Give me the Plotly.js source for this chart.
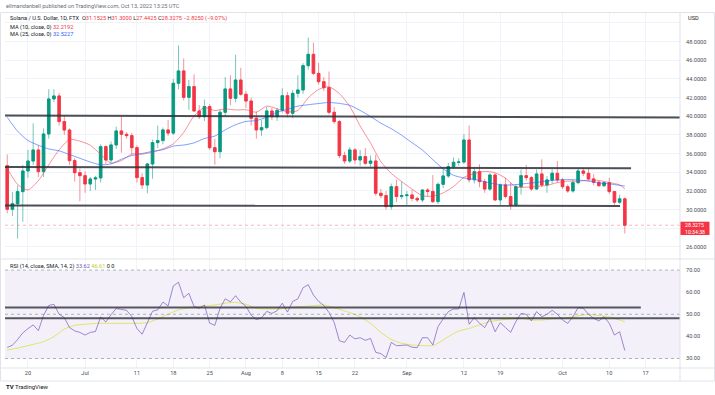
<!DOCTYPE html>
<html><head><meta charset="utf-8">
<script src="https://cdn.plot.ly/plotly-3.0.1.min.js"></script>
<style>html,body{margin:0;padding:0;background:#fff;}#chart{width:715px;height:395px;}</style>
</head><body><div id="chart"></div>
<script>
// ---- data ----
const dates = ['2022-06-16','2022-06-17','2022-06-18','2022-06-19','2022-06-20','2022-06-21','2022-06-22','2022-06-23','2022-06-24','2022-06-25','2022-06-26','2022-06-27','2022-06-28','2022-06-29','2022-06-30',
'2022-07-01','2022-07-02','2022-07-03','2022-07-04','2022-07-05','2022-07-06','2022-07-07','2022-07-08','2022-07-09','2022-07-10','2022-07-11','2022-07-12','2022-07-13','2022-07-14','2022-07-15','2022-07-16','2022-07-17','2022-07-18','2022-07-19','2022-07-20','2022-07-21','2022-07-22','2022-07-23','2022-07-24','2022-07-25','2022-07-26','2022-07-27','2022-07-28','2022-07-29','2022-07-30','2022-07-31',
'2022-08-01','2022-08-02','2022-08-03','2022-08-04','2022-08-05','2022-08-06','2022-08-07','2022-08-08','2022-08-09','2022-08-10','2022-08-11','2022-08-12','2022-08-13','2022-08-14','2022-08-15','2022-08-16','2022-08-17','2022-08-18','2022-08-19','2022-08-20','2022-08-21','2022-08-22','2022-08-23','2022-08-24','2022-08-25','2022-08-26','2022-08-27','2022-08-28','2022-08-29','2022-08-30','2022-08-31',
'2022-09-01','2022-09-02','2022-09-03','2022-09-04','2022-09-05','2022-09-06','2022-09-07','2022-09-08','2022-09-09','2022-09-10','2022-09-11','2022-09-12','2022-09-13','2022-09-14','2022-09-15','2022-09-16','2022-09-17','2022-09-18','2022-09-19','2022-09-20','2022-09-21','2022-09-22','2022-09-23','2022-09-24','2022-09-25','2022-09-26','2022-09-27','2022-09-28','2022-09-29','2022-09-30',
'2022-10-01','2022-10-02','2022-10-03','2022-10-04','2022-10-05','2022-10-06','2022-10-07','2022-10-08','2022-10-09','2022-10-10','2022-10-11','2022-10-12','2022-10-13'];

const open = [34.71,30.03,30.64,31.93,34.14,35.21,36.39,34.07,38.11,41.86,42.18,39.43,38.53,35.25,33.96,
33.64,32.75,33.28,33.40,36.75,35.32,36.93,38.43,38.07,37.93,36.64,33.43,32.64,34.89,37.18,37.40,38.54,38.20,43.54,44.86,42.03,43.18,40.57,39.96,41.04,36.64,36.21,40.43,42.93,41.93,43.89,
42.36,41.64,39.79,38.54,38.79,40.57,39.96,40.64,42.21,40.32,42.46,42.82,45.43,46.64,44.60,43.71,43.07,40.43,39.43,35.79,35.21,36.40,35.32,35.68,34.96,35.21,31.75,31.50,30.32,32.46,31.40,
31.50,31.57,31.20,31.04,32.10,31.95,30.86,32.71,33.61,34.61,35.07,35.10,37.46,33.20,34.07,33.00,32.20,33.71,31.04,32.64,31.40,30.50,32.46,33.64,33.43,32.21,33.82,32.64,33.18,33.89,
33.18,32.46,32.00,32.89,34.14,33.89,33.29,32.93,32.57,32.89,31.93,30.79,31.1525];
const high = [35.90,31.90,32.60,34.80,36.40,39.25,36.90,38.70,42.90,42.90,42.50,40.10,38.70,35.50,34.40,
34.10,33.50,33.60,37.00,36.90,37.30,38.90,40.00,38.30,38.20,36.90,33.90,35.00,37.50,39.00,38.80,39.60,44.00,47.60,46.20,43.90,44.50,41.20,41.80,41.30,37.60,40.70,44.20,44.40,46.60,45.20,
42.70,42.00,40.50,39.60,41.00,40.90,40.90,43.00,42.60,42.80,44.40,45.70,48.43,47.90,45.70,44.20,44.80,41.00,39.60,36.20,36.70,36.60,36.40,36.60,35.80,35.90,32.20,32.00,32.80,33.20,33.00,
32.00,32.10,31.40,32.20,32.30,33.70,32.90,34.40,35.00,35.60,35.50,38.10,39.00,34.50,34.86,33.30,33.90,33.90,32.80,33.40,32.90,32.70,34.30,34.80,33.60,34.30,35.40,33.60,34.30,35.20,
33.40,32.70,33.20,34.50,34.50,34.50,33.80,33.10,33.00,33.40,32.00,31.60,31.30];
const low = [29.60,29.30,26.90,28.70,33.40,34.80,33.50,33.50,37.60,41.50,39.00,38.00,34.80,33.00,30.90,
31.80,32.00,32.10,32.90,34.90,35.00,36.50,36.10,37.60,35.90,32.90,32.20,31.75,33.30,36.60,37.00,37.90,38.00,42.90,41.70,40.70,40.50,39.70,39.50,36.40,34.80,35.50,40.00,41.20,41.50,42.20,
40.90,39.00,37.60,37.90,38.60,39.60,39.50,40.40,39.90,39.80,42.00,42.40,45.00,44.40,43.40,42.70,40.20,39.20,35.50,34.90,35.00,34.90,34.70,34.80,34.60,31.50,31.20,30.00,30.00,30.80,31.10,
30.50,30.90,30.80,30.80,31.40,30.70,30.60,32.30,33.40,34.40,34.70,34.90,32.90,32.80,32.40,31.80,32.00,30.90,30.50,31.20,30.00,30.40,31.60,33.10,32.00,32.10,32.40,31.80,32.80,32.90,
32.20,31.80,31.80,32.70,33.60,33.10,32.60,32.40,32.40,31.70,30.50,30.60,27.4425];
const close = [30.03,30.64,31.93,34.14,35.21,36.39,34.07,38.11,41.86,42.18,39.43,38.53,35.25,33.96,33.64,
32.75,33.28,33.40,36.75,35.32,36.93,38.43,38.07,37.93,36.64,33.43,32.64,34.89,37.18,37.40,38.54,38.20,43.54,44.86,42.03,43.18,40.57,39.96,41.04,36.64,36.21,40.43,42.93,41.93,43.89,42.36,
41.64,39.79,38.54,38.79,40.57,39.96,40.64,42.21,40.32,42.46,42.82,45.43,46.64,44.60,43.71,43.07,40.43,39.43,35.79,35.21,36.40,35.32,35.68,34.96,35.21,31.75,31.50,30.32,32.46,31.40,31.50,
31.57,31.20,31.04,32.10,31.95,30.86,32.71,33.61,34.61,35.07,35.10,37.46,33.20,34.07,33.00,32.20,33.71,31.04,32.64,31.40,30.50,32.46,33.64,33.43,32.21,33.82,32.64,33.18,33.89,33.18,
32.46,32.00,32.89,34.14,33.89,33.29,32.93,32.57,32.89,31.93,30.79,31.1525,28.3275];

const ma10Dates = ['2022-06-16','2022-06-18','2022-06-20','2022-06-22','2022-06-24','2022-06-26','2022-06-28','2022-06-30','2022-07-02','2022-07-04','2022-07-06','2022-07-08','2022-07-10','2022-07-12','2022-07-14','2022-07-16','2022-07-18','2022-07-20','2022-07-22','2022-07-24','2022-07-26','2022-07-28','2022-07-30','2022-08-01','2022-08-03','2022-08-05','2022-08-07','2022-08-09','2022-08-11','2022-08-13','2022-08-15','2022-08-17','2022-08-19','2022-08-21','2022-08-23','2022-08-25','2022-08-27','2022-08-29','2022-08-31','2022-09-02','2022-09-04','2022-09-06','2022-09-08','2022-09-10','2022-09-12','2022-09-14','2022-09-16','2022-09-18','2022-09-20','2022-09-22','2022-09-24','2022-09-26','2022-09-28','2022-09-30','2022-10-02','2022-10-04','2022-10-06','2022-10-08','2022-10-10','2022-10-12','2022-10-13'];
const ma10 = [34.4,32.7,32.1,33.1,34.8,36.40,37.52,37.34,36.90,35.92,34.98,35.25,35.95,35.95,36.15,36.52,37.04,38.27,40.04,40.93,40.62,40.79,40.68,40.70,40.44,41.09,40.81,40.48,40.61,41.98,42.88,43.17,42.44,41.07,38.96,37.15,35.13,33.88,33.01,32.19,31.48,31.44,31.79,32.47,33.45,33.86,34.10,33.95,33.38,32.42,32.40,32.49,32.59,32.90,33.05,33.04,33.16,33.12,32.90,32.65,32.22];
const ma25Dates = ma10Dates;
const ma25 = [39.9,38.4,37.4,36.9,36.5,36.3,35.9,35.5,35.1,34.8,34.9,35.4,35.79,36.01,36.25,36.42,36.81,36.92,37.15,37.62,37.88,38.55,39.10,39.45,39.54,39.91,40.43,40.75,41.09,41.24,41.37,41.48,41.38,41.18,40.63,39.98,39.26,38.67,37.97,37.17,36.38,35.36,34.37,33.68,33.39,33.24,32.98,32.75,32.63,32.68,32.80,32.92,33.06,33.18,33.22,33.17,33.05,32.85,32.76,32.60,32.52];

const rsi = [35.0,36.0,38.6,41.6,43.5,45.2,42.6,49.5,54.0,54.5,50.0,48.5,44.0,42.5,41.8,
40.6,41.8,42.2,48.8,46.5,49.8,52.6,52.2,51.8,49.0,43.5,41.0,46.0,51.4,52.0,55.5,53.8,62.8,64.5,57.5,59.5,53.5,52.7,54.2,46.0,45.0,52.7,57.0,55.6,58.4,55.5,
53.6,49.6,47.6,48.4,51.3,50.4,51.6,55.0,51.0,55.8,57.0,62.0,63.4,58.7,55.8,54.0,50.8,46.3,38.0,37.3,40.6,38.9,39.4,38.2,39.1,32.8,32.2,30.4,37.3,35.8,35.8,
36.1,35.1,34.9,39.4,39.4,36.1,44.4,47.9,51.2,52.4,52.4,59.9,45.5,48.5,45.9,44.0,48.2,42.1,46.2,44.0,41.8,46.7,50.4,50.0,47.0,51.2,48.9,50.0,51.8,50.0,
47.4,45.9,48.9,53.0,52.7,50.0,48.2,47.0,48.9,45.9,40.6,42.1,33.62];
const rsiMaDates = ['2022-06-16','2022-06-18','2022-06-21','2022-06-23','2022-06-25','2022-06-27','2022-06-29','2022-07-01','2022-07-03','2022-07-06','2022-07-08','2022-07-11','2022-07-13','2022-07-15','2022-07-17','2022-07-19','2022-07-21','2022-07-23','2022-07-26','2022-07-28','2022-07-30','2022-08-01','2022-08-03','2022-08-05','2022-08-08','2022-08-10','2022-08-12','2022-08-14','2022-08-16','2022-08-18','2022-08-20','2022-08-21','2022-08-23','2022-08-25','2022-08-27','2022-08-29','2022-08-31','2022-09-02','2022-09-04','2022-09-06','2022-09-07','2022-09-09','2022-09-11','2022-09-13','2022-09-15','2022-09-17','2022-09-19','2022-09-21','2022-09-23','2022-09-25','2022-09-27','2022-09-29','2022-10-01','2022-10-03','2022-10-05','2022-10-06','2022-10-08','2022-10-10','2022-10-11','2022-10-13'];
const rsiMa = [33.9,34.7,36.4,37.6,39.9,43.3,45.0,45.5,45.9,45.9,45.9,45.9,46.2,47.9,50.0,52.0,53.0,53.5,54.2,55.0,55.4,54.5,52.7,52.4,52.5,53.2,53.5,53.9,54.2,53.0,51.5,50.8,48.9,45.9,41.8,38.6,36.9,36.1,35.8,35.8,36.9,39.9,42.4,43.6,45.2,46.7,47.4,47.9,48.2,47.4,47.4,47.9,48.2,48.9,49.7,50.0,49.4,48.9,48.2,46.61];

// author-drawn horizontal levels: [startDate, startValue, endDate, endValue]
const priceLevels = [
  ['2022-06-15 12:00', 40.08, '2022-10-25 00:00', 39.88],
  ['2022-06-15 12:00', 34.57, '2022-10-14 05:00', 34.43],
  ['2022-06-15 12:00', 30.43, '2022-10-12 02:00', 30.40]
];
const rsiLevels = [
  ['2022-06-15 12:00', 53.1, '2022-10-16 02:00', 53.1],
  ['2022-06-15 12:00', 48.2, '2022-10-25 00:00', 48.2]
];

const dateTicks = ['2022-06-20','2022-07-01','2022-07-11','2022-07-18','2022-07-25','2022-08-01','2022-08-08','2022-08-15','2022-08-22','2022-09-01','2022-09-12','2022-09-19','2022-10-01','2022-10-10','2022-10-17'];
const dateLabels = ['20','Jul','11','18','25','Aug','8','15','22','Sep','12','19','Oct','10','17'];
const priceTicks = [26,28,30,32,34,36,38,40,42,44,46,48,50];
const priceLabels = ['26.0000','','30.0000','32.0000','34.0000','36.0000','38.0000','40.0000','42.0000','44.0000','46.0000','48.0000',''];
const rsiTicks = [30,40,50,60,70];
const rsiLabels = ['30.00','40.00','50.00','60.00','70.00'];
const lastInfo = {o:'31.1525', h:'31.3000', l:'27.4425', c:'28.3275', chg:'−2.8250 (−9.07%)', ma10:'32.2192', ma25:'32.5227', rsi:'33.62', rsiMa:'46.61', timer:'10:34:38'};

// ---- drawing ----
const UP = '#089981', DN = '#f23645';
const bodyHigh = open.map((o,i)=>Math.max(o, close[i]));
const bodyLow = open.map((o,i)=>Math.min(o, close[i]));
const FONT = 'Roboto, "Liberation Sans", sans-serif';

const traces = [
  {type:'candlestick', x:dates, open:open, high:high, low:low, close:close, xaxis:'x', yaxis:'y',
   increasing:{line:{color:'rgba(8,153,129,0.55)', width:1}, fillcolor:'rgba(0,0,0,0)'},
   decreasing:{line:{color:'rgba(242,54,69,0.55)', width:1}, fillcolor:'rgba(0,0,0,0)'},
   whiskerwidth:0, hoverinfo:'skip', showlegend:false},
  {type:'candlestick', x:dates, open:open, high:bodyHigh, low:bodyLow, close:close, xaxis:'x', yaxis:'y',
   increasing:{line:{color:UP, width:0.8}, fillcolor:UP},
   decreasing:{line:{color:DN, width:0.8}, fillcolor:DN},
   whiskerwidth:0, hoverinfo:'skip', showlegend:false},
  {type:'scatter', mode:'lines', x:ma10Dates, y:ma10, xaxis:'x', yaxis:'y', line:{color:'rgba(242,54,69,0.55)', width:1, shape:'spline', smoothing:0.6}, hoverinfo:'skip', showlegend:false},
  {type:'scatter', mode:'lines', x:ma25Dates, y:ma25, xaxis:'x', yaxis:'y', line:{color:'rgba(41,98,255,0.6)', width:1, shape:'spline', smoothing:0.6}, hoverinfo:'skip', showlegend:false},
  {type:'scatter', mode:'lines', x:rsiMaDates, y:rsiMa, xaxis:'x', yaxis:'y2', line:{color:'rgba(215,225,60,0.75)', width:1, shape:'spline', smoothing:0.6}, hoverinfo:'skip', showlegend:false},
  {type:'scatter', mode:'lines', x:dates, y:rsi, xaxis:'x', yaxis:'y2', line:{color:'rgba(126,87,194,0.7)', width:1}, hoverinfo:'skip', showlegend:false}
];

const shapes = [];
// RSI band
shapes.push({type:'rect', xref:'paper', yref:'y2', x0:0, x1:1, y0:30, y1:70, fillcolor:'rgba(126,87,194,0.09)', line:{width:0}, layer:'below'});
[70,50,30].forEach(v=>shapes.push({type:'line', xref:'paper', yref:'y2', x0:0, x1:1, y0:v, y1:v, line:{color:'rgba(120,123,134,0.55)', width:1, dash:'3px,3px'}}));
// last price dotted line
shapes.push({type:'line', xref:'paper', yref:'y', x0:0, x1:1, y0:close[close.length-1], y1:close[close.length-1], line:{color:'rgba(242,54,69,0.35)', width:1, dash:'dot'}});
priceLevels.forEach(l=>shapes.push({type:'line', xref:'x', yref:'y', x0:l[0], y0:l[1], x1:l[2], y1:l[3], line:{color:'rgba(45,48,58,0.85)', width:2}}));
rsiLevels.forEach(l=>shapes.push({type:'line', xref:'x', yref:'y2', x0:l[0], y0:l[1], x1:l[2], y1:l[3], line:{color:'rgba(45,48,58,0.8)', width:2}}));
// frame and pane separator
shapes.push({type:'rect', xref:'paper', yref:'paper', x0:-0.0067, x1:1.0511, y0:-0.0366, y1:1.0014, line:{color:'#e0e3eb', width:1}, fillcolor:'rgba(0,0,0,0)'});
shapes.push({type:'line', xref:'paper', yref:'paper', x0:-0.0067, x1:1.0511, y0:0.307, y1:0.307, line:{color:'#e0e3eb', width:1}});
shapes.push({type:'line', xref:'paper', yref:'paper', x0:-0.0067, x1:1.0511, y0:0, y1:0, line:{color:'#e0e3eb', width:1}});
shapes.push({type:'line', xref:'paper', yref:'paper', x0:1, x1:1, y0:-0.0366, y1:1.0014, line:{color:'#e0e3eb', width:1}});
// price tag
shapes.push({type:'rect', xref:'paper', yref:'paper', x0:1.0007, x1:1.0437, y0:0.3746, y1:0.4121, fillcolor:DN, line:{width:0}, layer:'above'});

const red = s=>'<span style="color:#f23645">'+s+'</span>';
const annotations = [
  {text:'ellmandanbell published on TradingView.com, Oct 13, 2022 13:25 UTC', x:-0.0015, y:1.0197, xref:'paper', yref:'paper', xanchor:'left', yanchor:'middle', showarrow:false, font:{family:FONT, size:5.6, color:'#6a6d78'}},
  {text:'Solana / U.S. Dollar, 1D, FTX  O'+red(lastInfo.o)+' H'+red(lastInfo.h)+' L'+red(lastInfo.l)+' C'+red(lastInfo.c)+' '+red(lastInfo.chg), x:0.0044, y:0.9831, xref:'paper', yref:'paper', xanchor:'left', yanchor:'middle', showarrow:false, font:{family:FONT, size:5.6, color:'#131722'}},
  {text:'MA (10, close, 0) '+red(lastInfo.ma10), x:0.0044, y:0.9592, xref:'paper', yref:'paper', xanchor:'left', yanchor:'middle', showarrow:false, font:{family:FONT, size:5.6, color:'#131722'}},
  {text:'MA (25, close, 0) <span style="color:#2962ff">'+lastInfo.ma25+'</span>', x:0.0044, y:0.9408, xref:'paper', yref:'paper', xanchor:'left', yanchor:'middle', showarrow:false, font:{family:FONT, size:5.6, color:'#131722'}},
  {text:'RSI (14, close, SMA, 14, 2) <span style="color:#7e57c2">'+lastInfo.rsi+'</span> <span style="color:#c5cc2a">'+lastInfo.rsiMa+'</span> 0 0', x:0.0044, y:0.2873, xref:'paper', yref:'paper', xanchor:'left', yanchor:'middle', showarrow:false, font:{family:FONT, size:5.6, color:'#131722'}},
  {text:'USD', x:1.0089, y:0.9859, xref:'paper', yref:'paper', xanchor:'left', yanchor:'middle', showarrow:false, font:{family:FONT, size:5.6, color:'#131722'}},
  {text:lastInfo.c, x:1.0222, y:0.4028, xref:'paper', yref:'paper', xanchor:'center', yanchor:'middle', showarrow:false, font:{family:FONT, size:5.2, color:'#ffffff'}},
  {text:lastInfo.timer, x:1.0222, y:0.3845, xref:'paper', yref:'paper', xanchor:'center', yanchor:'middle', showarrow:false, font:{family:FONT, size:5.2, color:'#ffffff'}},
  {text:'<b>TV</b> TradingView', x:-0.0015, y:-0.0535, xref:'paper', yref:'paper', xanchor:'left', yanchor:'middle', showarrow:false, font:{family:FONT, size:6, color:'#131722'}}
];

const layout = {
  width:715, height:395, autosize:false,
  margin:{l:5, r:35, t:13, b:27, pad:0},
  paper_bgcolor:'#ffffff', plot_bgcolor:'#ffffff',
  showlegend:false, dragmode:false, boxgap:0.3,
  xaxis:{type:'date', anchor:'y2', range:['2022-06-15 13:40','2022-10-23 15:10'], tickmode:'array', tickvals:dateTicks, ticktext:dateLabels,
         showgrid:true, gridcolor:'#f0f3fa', gridwidth:1, zeroline:false, showline:false, ticks:'', ticklabelstandoff:0,
         tickfont:{family:FONT, size:5.6, color:'#4a4d57'}, rangeslider:{visible:false}, fixedrange:true},
  yaxis:{domain:[0.31,1], range:[24.82,51.07], side:'right', anchor:'x', tickmode:'array', tickvals:priceTicks, ticktext:priceLabels,
         showgrid:true, gridcolor:'#f0f3fa', zeroline:false, showline:false, ticks:'', ticklabelstandoff:5,
         tickfont:{family:FONT, size:5.6, color:'#4a4d57'}, fixedrange:true},
  yaxis2:{domain:[0,0.306], range:[25.7,74.84], side:'right', anchor:'x', tickmode:'array', tickvals:rsiTicks, ticktext:rsiLabels,
         showgrid:true, gridcolor:'#f0f3fa', zeroline:false, showline:false, ticks:'', ticklabelstandoff:5,
         tickfont:{family:FONT, size:5.6, color:'#4a4d57'}, fixedrange:true},
  shapes:shapes, annotations:annotations
};

Plotly.newPlot('chart', traces, layout, {displayModeBar:false, staticPlot:true});
</script>
</body></html>
